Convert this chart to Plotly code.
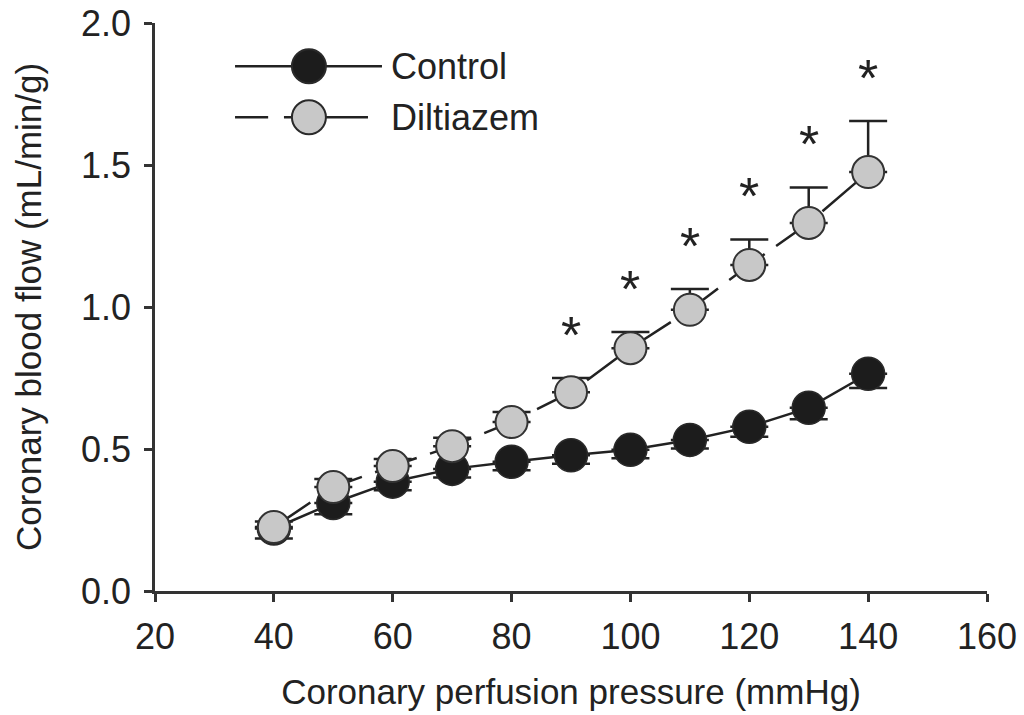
import plotly.graph_objects as go

# ciśnienie perfuzji (mmHg)
pressure = [40, 50, 60, 70, 80, 90, 100, 110, 120, 130, 140]

# przepływ wieńcowy (mL/min/g) + SEM
control = [0.22, 0.31, 0.385, 0.43, 0.455, 0.478, 0.497, 0.532, 0.578, 0.645, 0.765]
control_sem = [0.035, 0.04, 0.03, 0.03, 0.03, 0.03, 0.03, 0.03, 0.035, 0.04, 0.05]

diltiazem = [0.225, 0.366, 0.44, 0.51, 0.595, 0.70, 0.855, 0.99, 1.148, 1.296, 1.475]
diltiazem_sem = [0.02, 0.028, 0.025, 0.03, 0.035, 0.05, 0.057, 0.073, 0.09, 0.125, 0.18]

# gwiazdki istotności (p < 0.05) przy tych ciśnieniach
star_pressure = [90, 100, 110, 120, 130, 140]

x_ticks = [20, 40, 60, 80, 100, 120, 140, 160]
y_ticks = [0.0, 0.5, 1.0, 1.5, 2.0]

INK = "#222222"
FONT = "Liberation Sans, Arial, sans-serif"

fig = go.Figure()

fig.add_trace(go.Scatter(
    x=pressure, y=control, mode="lines+markers", name="Control",
    line=dict(color=INK, width=2.5),
    marker=dict(size=33, color="#1c1c1c", line=dict(color="#2a2a2a", width=1.5)),
    error_y=dict(type="data", symmetric=False, array=[0] * len(control),
                 arrayminus=control_sem, color=INK, thickness=2.5, width=19),
    showlegend=False,
))

fig.add_trace(go.Scatter(
    x=pressure, y=diltiazem, mode="lines+markers", name="Diltiazem",
    line=dict(color=INK, width=2.5, dash="44px,14px"),
    marker=dict(size=32, color="#c8c8c8", line=dict(color="#333333", width=2)),
    error_y=dict(type="data", symmetric=False, array=diltiazem_sem,
                 arrayminus=[0] * len(diltiazem), color=INK, thickness=2.5, width=19),
    showlegend=False,
))

# gwiazdki nad słupkami błędu
for p in star_pressure:
    i = pressure.index(p)
    fig.add_annotation(x=p, y=diltiazem[i] + diltiazem_sem[i], text="*",
                       showarrow=False, yanchor="middle", yshift=43,
                       font=dict(size=52, color=INK, family=FONT))

# legenda rysowana ręcznie (duże markery jak w oryginale), na osi pomocniczej 0..1
leg_rows = [("Control", 0.924, "#1c1c1c", "solid"), ("Diltiazem", 0.834, "#c8c8c8", "dash")]
for label, ly, fill, style in leg_rows:
    if style == "solid":
        segs = [[0.0962, 0.2728]]
    else:
        segs = [[0.0962, 0.136], [0.155, 0.256]]
    for s in segs:
        fig.add_trace(go.Scatter(x=s, y=[ly, ly], mode="lines", xaxis="x2", yaxis="y2",
                                 line=dict(color=INK, width=2.5), showlegend=False,
                                 hoverinfo="skip"))
    fig.add_trace(go.Scatter(x=[0.185], y=[ly], mode="markers", xaxis="x2", yaxis="y2",
                             marker=dict(size=34, color=fill,
                                         line=dict(color="#2a2a2a", width=2)),
                             showlegend=False, hoverinfo="skip"))
    fig.add_annotation(x=0.2815, y=ly, xref="x2", yref="y2", text=label, showarrow=False,
                       xanchor="left", yanchor="middle",
                       font=dict(size=36, color=INK, family=FONT))

axis_common = dict(
    showgrid=False, zeroline=False, showline=True, linecolor="#333333", linewidth=2.5,
    ticks="outside", ticklen=8, tickwidth=2.5, tickcolor="#333333",
    tickfont=dict(size=36, color=INK, family=FONT), automargin=False,
    ticklabeloverflow="allow",
)

fig.update_layout(
    width=1024, height=715,
    margin=dict(l=155, r=37, t=23, b=124),
    paper_bgcolor="white", plot_bgcolor="white",
    font=dict(family=FONT, color=INK),
    xaxis=dict(range=[20, 160], tickvals=x_ticks,
               title=dict(text="Coronary perfusion pressure (mmHg)",
                          font=dict(size=35, color=INK, family=FONT), standoff=24),
               ticklabelstandoff=4, **axis_common),
    yaxis=dict(range=[0, 2.0], tickvals=y_ticks, tickformat=".1f",
               title=dict(text="Coronary blood flow (mL/min/g)",
                          font=dict(size=35, color=INK, family=FONT), standoff=29),
               ticklabelstandoff=6, **axis_common),
    xaxis2=dict(range=[0, 1], overlaying="x", visible=False),
    yaxis2=dict(range=[0, 1], overlaying="y", visible=False),
)

# bez domyślnego marginesu body (8px), żeby wykres leżał dokładnie w oknie
fig.write_html("out.html", config={"displayModeBar": False},
               post_script="document.body.style.margin='0';")
